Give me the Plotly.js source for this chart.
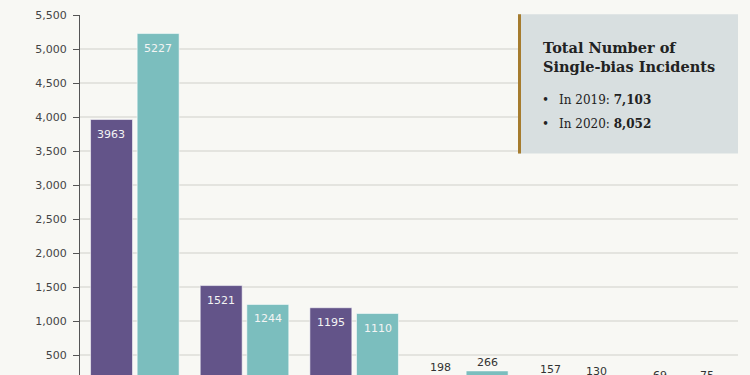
<!DOCTYPE html>
<html>
<head>
<meta charset="utf-8">
<script src="https://cdn.plot.ly/plotly-3.0.1.min.js"></script>
<style>
html, body { margin:0; padding:0; background:#f8f8f4; overflow:hidden; }
#wrap { width:750px; height:375px; overflow:hidden; position:relative; }
#chart { width:750px; height:420px; }
</style>
</head>
<body>
<div id="wrap"><div id="chart"></div></div>
<script>
const categories = ["Race/Ethnicity/Ancestry", "Religion", "Sexual orientation", "Gender identity", "Disability", "Gender"];
const years = ["2019", "2020"];
const values2019 = [3963, 1521, 1195, 198, 157, 69];
const values2020 = [5227, 1244, 1110, 266, 130, 75];
const yTicks = [500, 1000, 1500, 2000, 2500, 3000, 3500, 4000, 4500, 5000, 5500];
const boxTitle = "Total Number of<br>Single-bias Incidents";
const boxLines = ["In 2019: <b>7,103</b>", "In 2020: <b>8,052</b>"];

const colors = ["#635489", "#7bbebe"];
const series = [values2019, values2020];

const traces = series.map((vals, i) => ({
  type: "bar",
  name: years[i],
  x: categories,
  y: vals,
  marker: { color: colors[i], line: { color: "rgba(255,255,255,0.55)", width: 1 } },
  hoverinfo: "skip"
}));

const annotations = [];
const slotShift = 23.35;
series.forEach((vals, i) => {
  vals.forEach((v, j) => {
    const inside = v > 1000;
    annotations.push({
      xref: "x", yref: "y", x: categories[j], y: v,
      text: String(v), showarrow: false,
      xshift: (i === 0 ? -1 : 1) * slotShift,
      yanchor: inside ? "top" : "bottom",
      yshift: inside ? -6 : 0,
      font: { family: "DejaVu Sans, Verdana, sans-serif", size: 11, color: inside ? "#f4f4f4" : "#333333" }
    });
  });
});

// text box
const pw = 658;
const ph = 374;
const bx0 = (518 - 80) / pw;
annotations.push({
  xref: "paper", yref: "paper", x: (541 - 80) / pw, y: (389 - 37) / ph,
  xanchor: "left", yanchor: "top", align: "left", showarrow: false,
  text: "<b>" + boxTitle + "</b>",
  font: { family: "DejaVu Serif, Georgia, serif", size: 14.5, color: "#222222" }
});
boxLines.forEach((t, k) => {
  const yc = [99.5, 124.5][k];
  annotations.push({
    xref: "paper", yref: "paper", x: (540 - 80) / pw, y: (389 - yc) / ph,
    xanchor: "left", yanchor: "middle", showarrow: false,
    text: "•", font: { family: "DejaVu Serif, serif", size: 12, color: "#222222" }
  });
  annotations.push({
    xref: "paper", yref: "paper", x: (557 - 80) / pw, y: (389 - yc) / ph,
    xanchor: "left", yanchor: "middle", showarrow: false,
    text: t, font: { family: "DejaVu Serif, Georgia, serif", size: 12, color: "#222222" }
  });
});

const layout = {
  width: 750, height: 420,
  margin: { l: 80, r: 12, t: 15, b: 31, pad: 0 },
  paper_bgcolor: "#f8f8f4",
  plot_bgcolor: "#f8f8f4",
  showlegend: false,
  barmode: "group",
  bargap: 0.15,
  bargroupgap: 0.1,
  xaxis: { showticklabels: false, showgrid: false, showline: false, zeroline: false, ticks: "" },
  yaxis: {
    range: [0, 5500],
    tickvals: yTicks,
    tickformat: ",d",
    ticks: "outside", ticklen: 6, tickcolor: "#555555", tickwidth: 1,
    ticklabelstandoff: 4,
    showline: true, linecolor: "#555555", linewidth: 1,
    showgrid: true, gridcolor: "#e4e4df", gridwidth: 1.5,
    zeroline: false,
    tickfont: { family: "DejaVu Sans, Verdana, sans-serif", size: 11, color: "#444444" }
  },
  shapes: [
    { type: "rect", xref: "paper", yref: "paper", x0: bx0, x1: 1, y0: (389 - 153.5) / ph, y1: 1.002,
      fillcolor: "#d8dfe0", line: { width: 0 }, layer: "above" },
    { type: "rect", xref: "paper", yref: "paper", x0: bx0, x1: (521 - 80) / pw, y0: (389 - 153.5) / ph, y1: 1.002,
      fillcolor: "#a67c2e", line: { width: 0 }, layer: "above" }
  ],
  annotations: annotations
};

Plotly.newPlot("chart", traces, layout, { displayModeBar: false, staticPlot: true });
</script>
</body>
</html>
